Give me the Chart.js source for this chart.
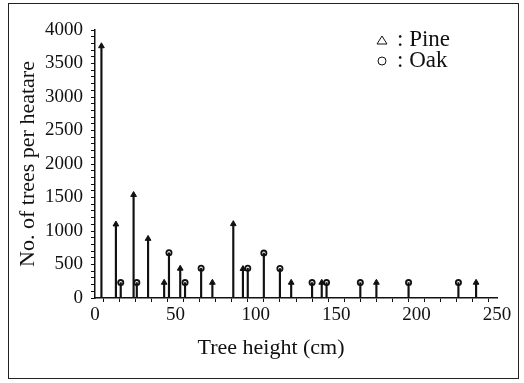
<!DOCTYPE html>
<html>
<head>
<meta charset="utf-8">
<script src="https://cdn.jsdelivr.net/npm/chart.js@4/dist/chart.umd.min.js"></script>
<style>
  body { margin: 0; background: #fff; }
  #wrap { position: relative; width: 524px; height: 383px; }
  #frame { position: absolute; left: 8px; top: 3px; width: 509px; height: 374px; border: 1.5px solid #222; pointer-events: none; }
  canvas { position: absolute; left: 0; top: 0; }
</style>
</head>
<body>
<div id="wrap">
  <canvas id="chart" width="524" height="383"></canvas>
  <div id="frame"></div>
</div>
<script>
// Pine (triangle) and Oak (circle) densities by tree height
const pineHeights = [4, 13, 24, 33, 43, 53, 73, 86, 92, 122, 141, 175, 237];
const pineTrees   = [3760, 1100, 1540, 885, 230, 440, 230, 1105, 435, 230, 230, 230, 230];
const oakHeights  = [16, 26, 46, 56, 66, 95, 105, 115, 135, 144, 165, 195, 226];
const oakTrees    = [230, 230, 675, 230, 445, 445, 670, 440, 230, 230, 230, 230, 230];
const legendLabels = [': Pine', ': Oak'];
const xTitle = 'Tree height (cm)';
const yTitle = 'No. of trees per heatare';

const serif = '"Liberation Serif", "DejaVu Serif", serif';
const ink = '#111';

function pts(xs, ys) {
    return xs.map((x, i) => ({ x: x, y: ys[i] }));
}

// legend + x title drawn by hand so they sit where the original has them
const extras = {
    id: 'extras',
    afterDraw(chart) {
        const ctx = chart.ctx;
        const area = chart.chartArea;
        ctx.save();
        ctx.fillStyle = ink;
        ctx.strokeStyle = ink;
        ctx.font = '22px ' + serif;
        ctx.textBaseline = 'middle';
        ctx.textAlign = 'center';
        ctx.fillText(xTitle, (area.left + area.right) / 2 - 25, 348);

        ctx.textAlign = 'left';
        ctx.lineWidth = 1;
        const lx = area.right - 115;
        const rows = [area.top + 10, area.top + 31];
        // triangle
        ctx.beginPath();
        ctx.moveTo(lx, rows[0] - 4);
        ctx.lineTo(lx + 5, rows[0] + 4);
        ctx.lineTo(lx - 5, rows[0] + 4);
        ctx.closePath();
        ctx.stroke();
        // circle
        ctx.beginPath();
        ctx.arc(lx, rows[1], 4, 0, Math.PI * 2);
        ctx.stroke();
        ctx.font = '23px ' + serif;
        ctx.fillText(legendLabels[0], lx + 15, rows[0]);
        ctx.fillText(legendLabels[1], lx + 15, rows[1]);
        ctx.restore();
    }
};

const stemStyle = {
    type: 'bar',
    backgroundColor: ink,
    barThickness: 1.5,
    grouped: false
};

new Chart(document.getElementById('chart'), {
    type: 'bar',
    data: {
        datasets: [
            Object.assign({ label: 'Pine stems', data: pts(pineHeights, pineTrees) }, stemStyle),
            Object.assign({ label: 'Oak stems', data: pts(oakHeights, oakTrees) }, stemStyle),
            {
                type: 'line',
                label: 'Pine',
                data: pts(pineHeights, pineTrees),
                showLine: false,
                pointStyle: 'triangle',
                pointRadius: 3.3,
                backgroundColor: ink,
                borderColor: ink,
                borderWidth: 1
            },
            {
                type: 'line',
                label: 'Oak',
                data: pts(oakHeights, oakTrees),
                showLine: false,
                pointStyle: 'circle',
                pointRadius: 2.6,
                backgroundColor: '#fff',
                borderColor: ink,
                borderWidth: 1.8
            }
        ]
    },
    options: {
        responsive: false,
        animation: false,
        layout: { padding: { top: 30, right: 27, left: 0, bottom: 0 } },
        plugins: {
            legend: { display: false },
            tooltip: { enabled: false }
        },
        scales: {
            x: {
                type: 'linear',
                min: 0,
                max: 250,
                offset: false,
                afterFit: s => { s.height = 85; },
                border: { color: ink, width: 1.5 },
                grid: { drawOnChartArea: false, tickLength: 4, color: ink, tickWidth: 1 },
                ticks: {
                    stepSize: 10,
                    autoSkip: false,
                    maxRotation: 0,
                    padding: 2,
                    color: ink,
                    font: { family: serif, size: 19 },
                    callback: v => (v % 50 === 0 ? String(v) : '')
                }
            },
            y: {
                min: 0,
                max: 4000,
                afterFit: s => { s.width = 95; },
                border: { color: ink, width: 1.5 },
                grid: { drawOnChartArea: false, tickLength: 4, color: ink, tickWidth: 1 },
                ticks: {
                    stepSize: 100,
                    autoSkip: false,
                    padding: 8,
                    color: ink,
                    font: { family: serif, size: 19 },
                    callback: v => (v % 500 === 0 ? String(v) : '')
                },
                title: {
                    display: true,
                    text: yTitle,
                    color: ink,
                    font: { family: serif, size: 22 },
                    padding: { top: 15, bottom: 0 }
                }
            }
        }
    },
    plugins: [extras]
});
</script>
</body>
</html>
